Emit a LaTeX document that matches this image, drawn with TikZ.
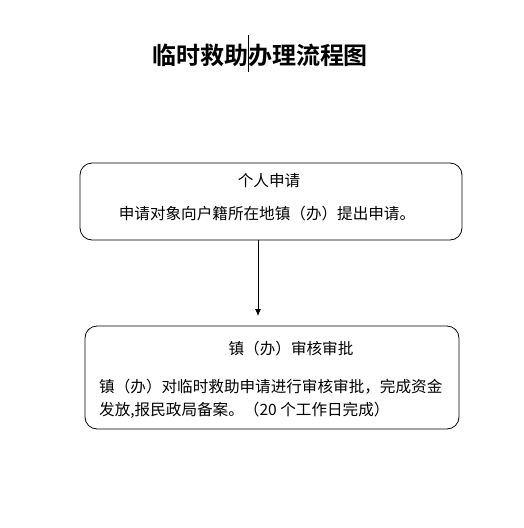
\documentclass[tikz,border=0pt]{standalone}
\usepackage{fontspec}
\setmainfont{Liberation Serif}
\newfontfamily\cjk{Noto Sans CJK SC}
\newfontfamily\cjkb{Noto Sans CJK SC Bold}
\usetikzlibrary{arrows.meta}
\begin{document}
\begin{tikzpicture}[x=1pt,y=-1pt,
  flowbox/.style={draw,line width=0.8pt,rounded corners=12pt,inner sep=0pt},
  txt/.style={inner sep=0pt,font=\cjk\fontsize{15.6}{20}\selectfont},
  conn/.style={draw,line width=0.8pt,-{Latex[length=7pt,width=6pt]}}]
\useasboundingbox (0,0) rectangle (524,528);
\node[inner sep=0pt,font=\cjkb\fontsize{24}{28}\selectfont] (title) at (260,55) {临时救助办理流程图};
\coordinate (ct) at (248,35);
\coordinate (cb) at (248,72);
\draw[line width=1pt] (ct) -- (cb);
\node[flowbox,minimum width=382pt,minimum height=77pt] (b1) at (271,201.5) {};
\node[txt] (t1) at (269,181) {个人申请};
\node[txt] (t2) at (267,214) {申请对象向户籍所在地镇（办）提出申请。};
\node[flowbox,minimum width=374pt,minimum height=103pt] (b2) at (272,377.5) {};
\node[txt] (t3) at (291,349) {镇（办）审核审批};
\node[txt,anchor=west] (t4) at (99,387) {镇（办）对临时救助申请进行审核审批，完成资金};
\node[txt,anchor=west] (t5) at (99,410) {发放,报民政局备案。（20 个工作日完成）};
\coordinate (a1) at (258,240);
\coordinate (a2) at (258,316);
\draw[conn] (b1.south -| a1) -- (a2);
\end{tikzpicture}
\end{document}
